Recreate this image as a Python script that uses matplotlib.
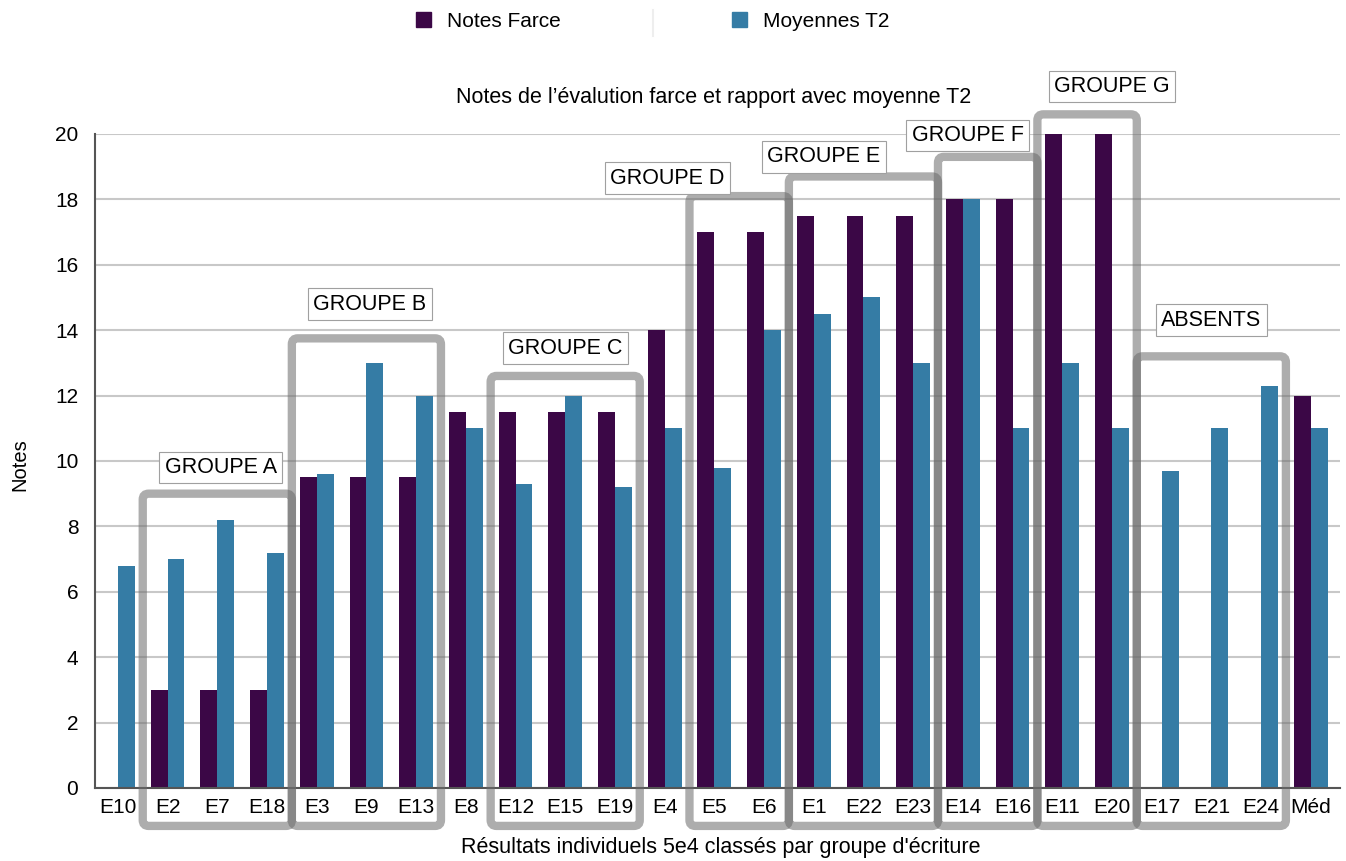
import matplotlib
matplotlib.use('Agg')
import matplotlib.pyplot as plt
from matplotlib.patches import FancyBboxPatch, Patch
from matplotlib.lines import Line2D
import numpy as np

plt.rcParams['font.family'] = ['Liberation Sans', 'DejaVu Sans']

ELEVES = ['E10', 'E2', 'E7', 'E18', 'E3', 'E9', 'E13', 'E8', 'E12', 'E15', 'E19', 'E4',
          'E5', 'E6', 'E1', 'E22', 'E23', 'E14', 'E16', 'E11', 'E20', 'E17', 'E21', 'E24', 'Méd']
NOTES_FARCE = [np.nan, 3, 3, 3, 9.5, 9.5, 9.5, 11.5, 11.5, 11.5, 11.5, 14,
               17, 17, 17.5, 17.5, 17.5, 18, 18, 20, 20, np.nan, np.nan, np.nan, 12]
MOYENNES_T2 = [6.8, 7.0, 8.2, 7.2, 9.6, 13, 12, 11, 9.3, 12, 9.2, 11,
               9.8, 14, 14.5, 15, 13, 18, 11, 13, 11, 9.7, 11, 12.3, 11]

# groupes : (nom, premier eleve, dernier eleve, haut du cadre)
GROUPES = [('GROUPE A', 'E2', 'E18', 9.0),
           ('GROUPE B', 'E3', 'E13', 13.75),
           ('GROUPE C', 'E12', 'E19', 12.6),
           ('GROUPE D', 'E5', 'E6', 18.1),
           ('GROUPE E', 'E1', 'E23', 18.7),
           ('GROUPE F', 'E14', 'E16', 19.3),
           ('GROUPE G', 'E11', 'E20', 20.6),
           ('ABSENTS', 'E17', 'E24', 13.2)]
# position des étiquettes (x en index, y en note)
ETIQUETTES = [(2.07, 9.8), (5.07, 14.8), (9.0, 13.45), (11.05, 18.65),
              (14.2, 19.3), (17.1, 19.95), (20.0, 21.45), (22.0, 14.3)]

VIOLET = '#3b0746'
BLEU = '#357ca5'

fig = plt.figure(figsize=(13.46, 8.61), dpi=100)
ax = fig.add_axes([0.0706, 0.0848, 0.925, 0.7596])

x = np.arange(len(ELEVES))
w = 0.34
ax.bar(x - w / 2, NOTES_FARCE, w, color=VIOLET, zorder=2)
ax.bar(x + w / 2, MOYENNES_T2, w, color=BLEU, zorder=2)

ax.set_xlim(-0.46, 24.59)
ax.set_ylim(0, 20)
ax.set_yticks(range(0, 21, 2))
ax.set_xticks(x)
ax.set_xticklabels(ELEVES)
ax.tick_params(axis='both', length=0, labelsize=15)
ax.tick_params(axis='x', pad=7)
ax.tick_params(axis='y', pad=12)
ax.grid(axis='y', color='#c8c8c8', lw=1.5, zorder=0)
ax.set_axisbelow(True)
for s in ['top', 'right']:
    ax.spines[s].set_visible(False)
for s in ['left', 'bottom']:
    ax.spines[s].set_color('#555555')
    ax.spines[s].set_linewidth(1.5)

fig.text(20 / 1346, 1 - 465 / 861, 'Notes', rotation=90, fontsize=14.5, ha='center', va='center')
fig.text(721 / 1346, 1 - 848 / 861, "Résultats individuels 5e4 classés par groupe d'écriture",
         fontsize=15.5, ha='center', va='center')
fig.text(714 / 1346, 1 - 97 / 861, "Notes de l’évalution farce et rapport avec moyenne T2",
         fontsize=15.5, ha='center', va='center')

# cadres des groupes
bas = -1.16
for (nom, debut, fin, haut), (ex, ey) in zip(GROUPES, ETIQUETTES):
    i0 = ELEVES.index(debut) - 0.5
    i1 = ELEVES.index(fin) + 0.5
    cadre = FancyBboxPatch((i0, bas), i1 - i0, haut - bas,
                           boxstyle='round,pad=0,rounding_size=0.12',
                           mutation_aspect=1.52, fill=False,
                           ec=(0.42, 0.42, 0.42), alpha=0.55, lw=6,
                           clip_on=False, zorder=3)
    ax.add_patch(cadre)
    ax.text(ex, ey, nom, fontsize=15.5, ha='center', va='center', zorder=4,
            bbox=dict(boxstyle='square,pad=0.25', fc='white', ec='#a0a0a0', lw=0.8))

# légende
poignees = [Patch(color=VIOLET), Patch(color=BLEU)]
fig.legend(poignees, ['Notes Farce', 'Moyennes T2'], loc='center', ncol=2,
           bbox_to_anchor=(0.485, 0.9756), frameon=False, fontsize=15,
           handlelength=0.72, handleheight=0.72, handletextpad=0.77, columnspacing=8.2)
fig.add_artist(Line2D([653 / 1346, 653 / 1346], [1 - 36 / 861, 1 - 10 / 861], color='#eeeeee', lw=1.5))

fig.savefig('out.png', dpi=100)
